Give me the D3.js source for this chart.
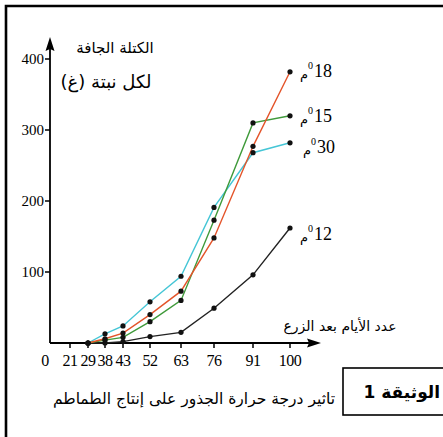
<!DOCTYPE html>
<html><head><meta charset="utf-8">
<script src="https://cdn.jsdelivr.net/npm/d3@7"></script>
<style>html,body{margin:0;padding:0;background:#fff;}svg{display:block;}</style>
</head><body>
<script>
// ---- data ----
const tickDays = [0, 21, 29, 38, 43, 52, 63, 76, 91, 100];
const yTicks = [100, 200, 300, 400];
const days = [29, 38, 43, 52, 63, 76, 91, 100];
const t12 = [0, 0, 2, 9, 15, 49, 96, 162];
const t15 = [0, 4, 8, 30, 60, 173, 310, 320];
const t18 = [0, 6, 14, 40, 73, 148, 277, 382];
const t30 = [0, 13, 24, 58, 94, 191, 268, 282];
const seriesNames = ["12", "30", "15", "18"];
const yTitle = ["الكتلة الجافة", "لكل نبتة (غ)"];
const xTitle = "عدد الأيام بعد الزرع";
const caption = "تاثير درجة حرارة الجذور على إنتاج الطماطم";
const docLabel = "الوثيقة 1";

const W = 443, H = 437;
const svg = d3.select("body").append("svg").attr("width", W).attr("height", H);

// frame
svg.append("path").attr("d", `M6,${H} L6,6 L${W},6`).attr("fill", "none")
  .attr("stroke", "#000").attr("stroke-width", 2.6);

// scales (hand-drawn, uneven day axis -> piecewise linear)
const x = d3.scaleLinear().domain(tickDays)
  .range([50, 70, 88, 105, 123, 150, 181, 214, 253, 290]);
const y = d3.scaleLinear().domain([0, 400]).range([343, 59]);

const serif = "'Liberation Serif','DejaVu Serif',serif";
const arab = "'DejaVu Sans','Noto Sans',sans-serif";

// axes
const g = svg.append("g");
g.append("line").attr("x1", x(0)).attr("x2", 312).attr("y1", y(0)).attr("y2", y(0))
  .attr("stroke", "#000").attr("stroke-width", 1.8);
g.append("line").attr("x1", x(0)).attr("x2", x(0)).attr("y1", y(0)).attr("y2", 46)
  .attr("stroke", "#000").attr("stroke-width", 1.8);
g.append("path").attr("d", `M321,${y(0)} L307,${y(0)-4.5} L309,${y(0)} L307,${y(0)+4.5} Z`).attr("fill", "#000");
g.append("path").attr("d", `M${x(0)},37 L${x(0)-4.5},51 L${x(0)},49 L${x(0)+4.5},51 Z`).attr("fill", "#000");

// y ticks
yTicks.forEach(v => {
  g.append("line").attr("x1", x(0) - 5).attr("x2", x(0)).attr("y1", y(v)).attr("y2", y(v))
    .attr("stroke", "#000").attr("stroke-width", 1.5);
  g.append("text").attr("x", x(0) - 6).attr("y", y(v) + 5).attr("text-anchor", "end")
    .attr("font-family", serif).attr("font-size", 15).text(v);
});
// x ticks
tickDays.forEach(v => {
  if (v > 0) g.append("line").attr("x1", x(v)).attr("x2", x(v)).attr("y1", y(0) - 1).attr("y2", y(0) + 5)
    .attr("stroke", "#000").attr("stroke-width", 1.5);
  g.append("text").attr("x", x(v) + (v === 0 ? -5 : 0)).attr("y", 366).attr("text-anchor", "middle")
    .attr("font-family", serif).attr("font-size", 16).attr("letter-spacing", -0.5).text(v);
});

// series
const series = [
  {name: "12", vals: t12, color: "#222"},
  {name: "30", vals: t30, color: "#45c6d6"},
  {name: "15", vals: t15, color: "#3f9a3a"},
  {name: "18", vals: t18, color: "#e4542a"}
];
const line = d3.line().x(d => x(d[0])).y(d => y(d[1]));
series.forEach(s => {
  const pts = days.map((d, i) => [d, s.vals[i]]);
  svg.append("path").attr("d", line(pts)).attr("fill", "none")
    .attr("stroke", s.color).attr("stroke-width", 1.4);
});
series.forEach(s => {
  const pts = days.map((d, i) => [d, s.vals[i]]);
  svg.selectAll(null).data(pts).enter().append("circle")
    .attr("cx", d => x(d[0])).attr("cy", d => y(d[1])).attr("r", 2.6).attr("fill", "#111");
});

// series labels: "م" + superscript 0 + number
const labelOffsets = {"18": [0, 5], "15": [0, 6], "30": [3, 10], "12": [0, 12]};
series.forEach(s => {
  const last = s.vals[s.vals.length - 1];
  const lx = 300 + labelOffsets[s.name][0];
  const ly = y(last) + labelOffsets[s.name][1];
  svg.append("text").attr("x", lx).attr("y", ly + 2).attr("font-family", arab).attr("font-size", 13).text("م");
  svg.append("text").attr("x", lx + 8).attr("y", ly - 8).attr("font-family", serif).attr("font-size", 10).text("0");
  svg.append("text").attr("x", lx + 14).attr("y", ly).attr("font-family", serif).attr("font-size", 18).text(s.name);
});

// titles
svg.append("text").attr("x", 115).attr("y", 53).attr("text-anchor", "middle").attr("direction", "rtl")
  .attr("font-family", arab).attr("font-size", 15).text(yTitle[0]);
svg.append("text").attr("x", 106).attr("y", 88).attr("text-anchor", "middle").attr("direction", "rtl")
  .attr("font-family", arab).attr("font-size", 18).text(yTitle[1]);
svg.append("text").attr("x", 340).attr("y", 331).attr("text-anchor", "middle").attr("direction", "rtl")
  .attr("font-family", arab).attr("font-size", 14).text(xTitle);
svg.append("text").attr("x", 194).attr("y", 404).attr("text-anchor", "middle").attr("direction", "rtl")
  .attr("font-family", arab).attr("font-size", 15.5).text(caption);

// document box
svg.append("rect").attr("x", 343).attr("y", 368).attr("width", 120).attr("height", 47)
  .attr("fill", "none").attr("stroke", "#000").attr("stroke-width", 1.6);
svg.append("text").attr("x", 440).attr("y", 398).attr("text-anchor", "start").attr("direction", "rtl")
  .attr("font-family", "'DejaVu Sans',sans-serif").attr("font-weight", "bold").attr("font-size", 17).text(docLabel);
</script>
</body></html>
